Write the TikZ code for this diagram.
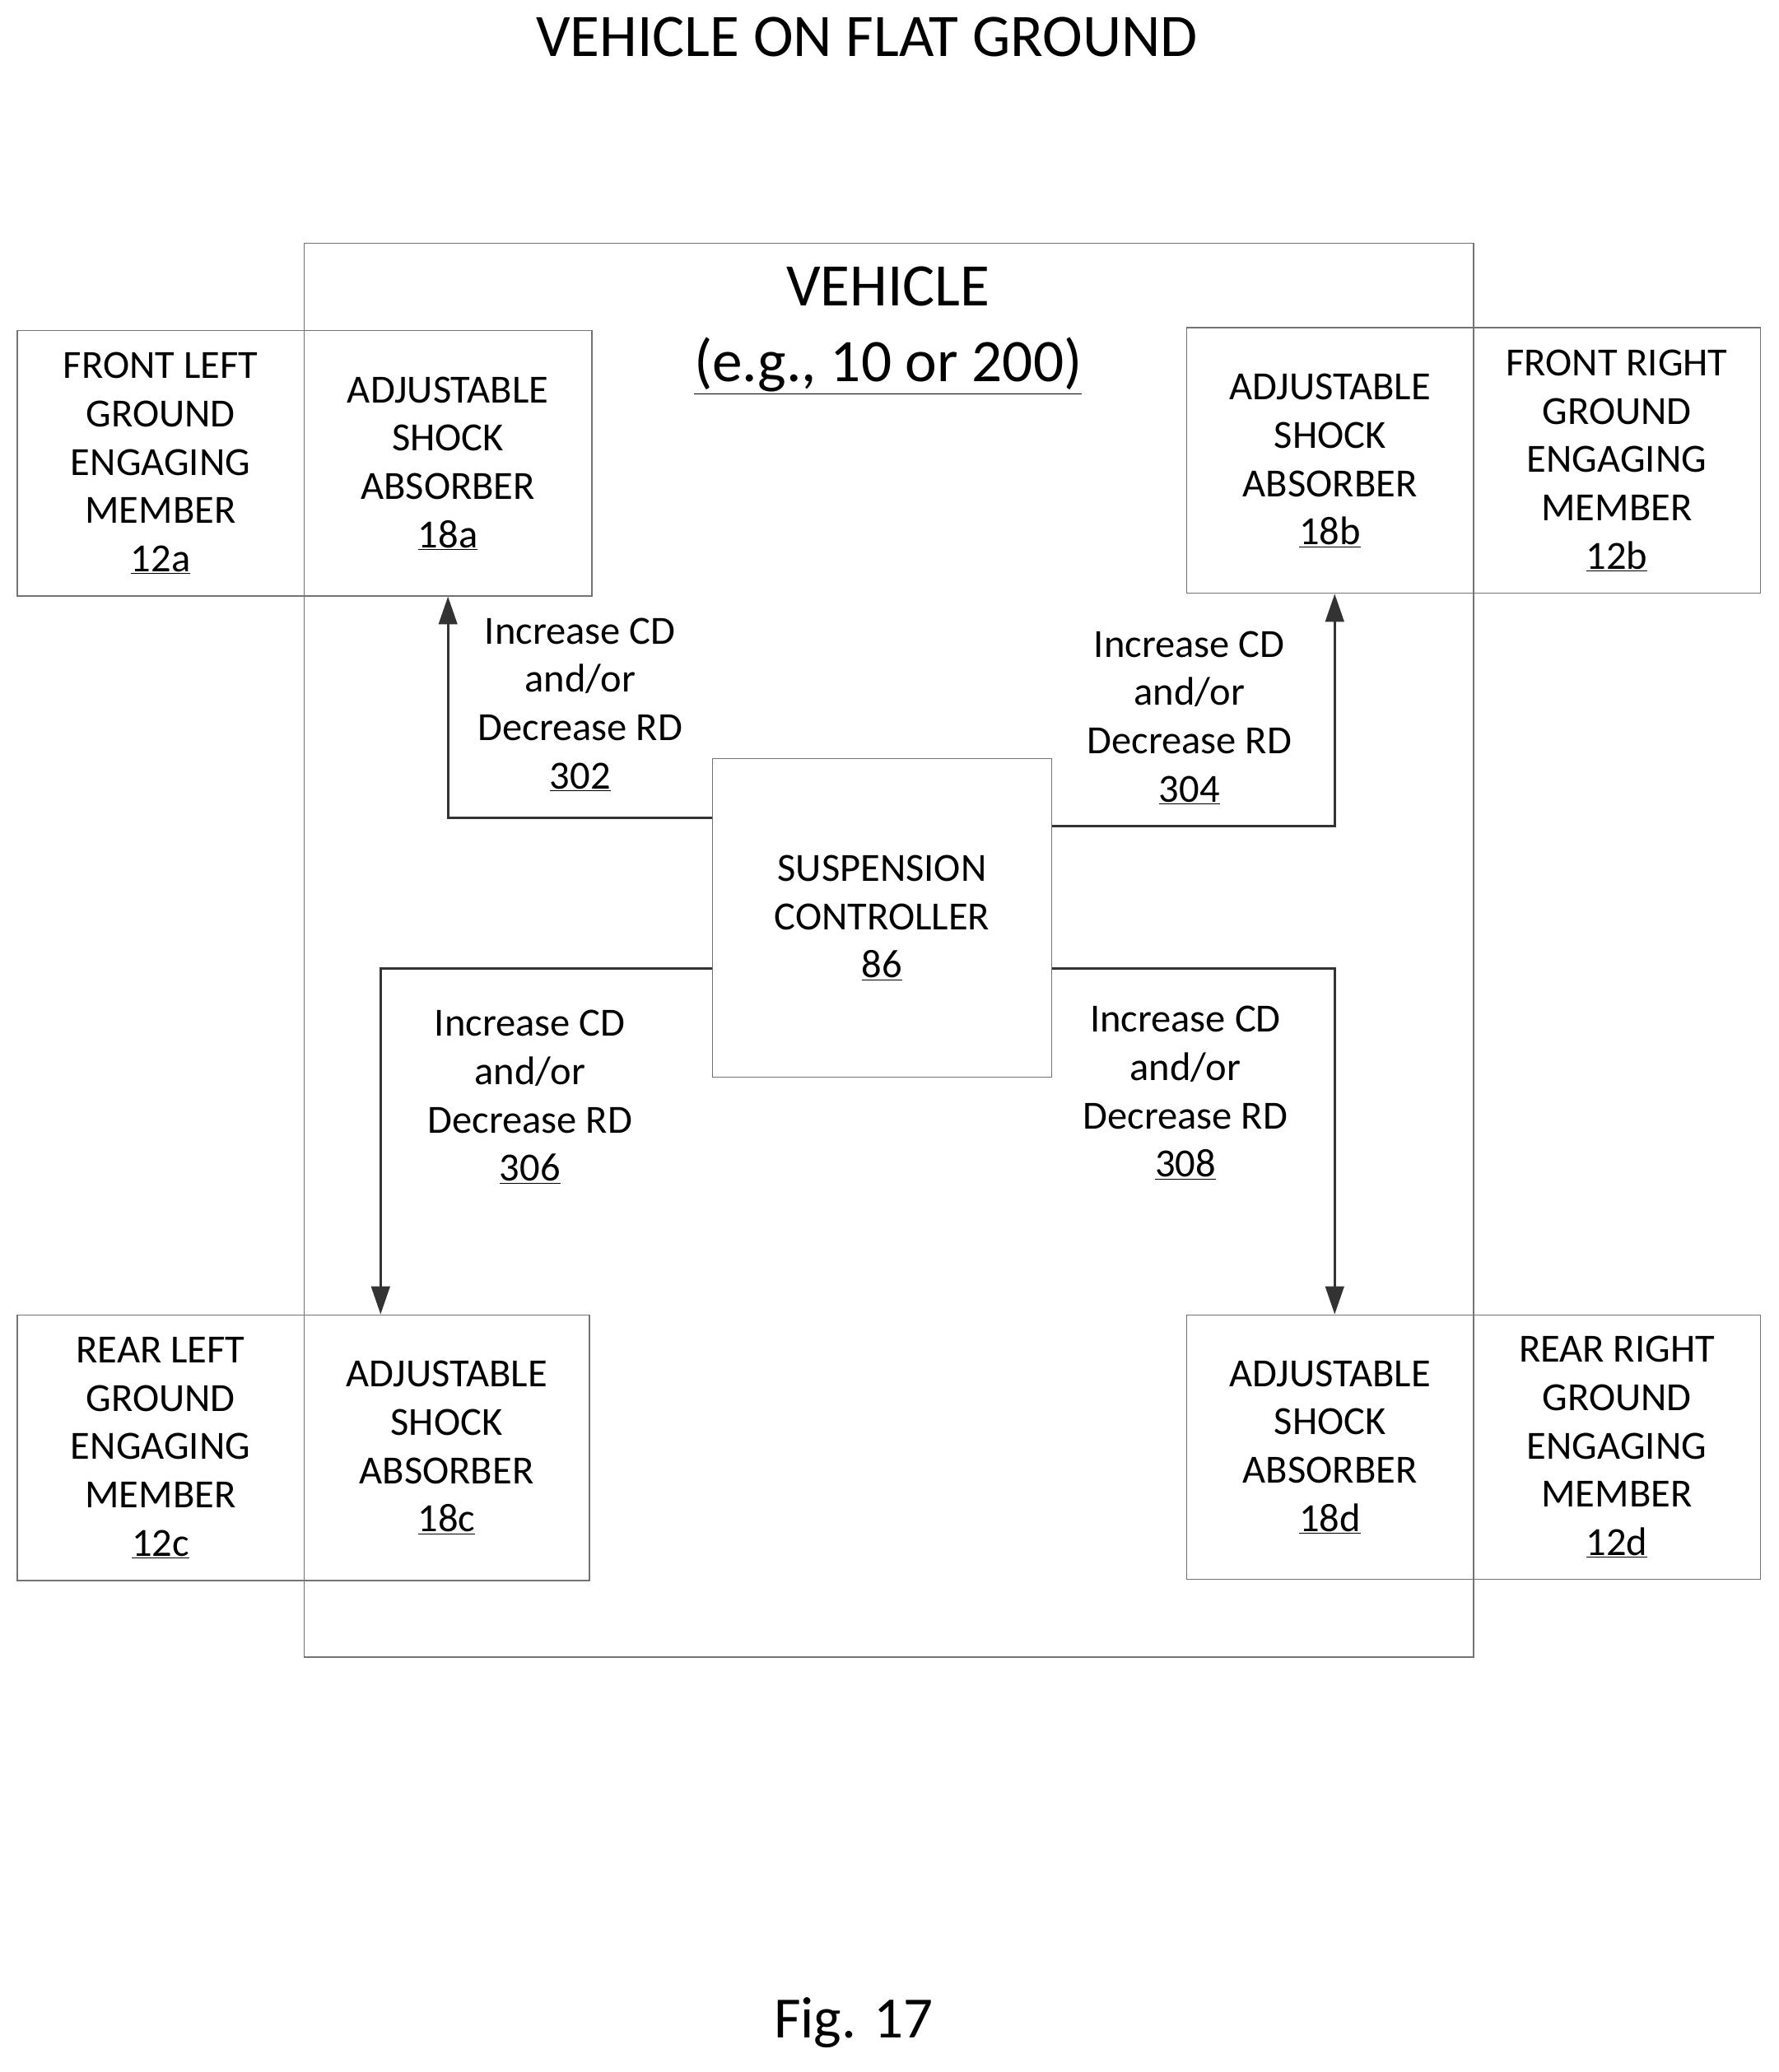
\documentclass[tikz,border=0pt]{standalone}
\usepackage{fontspec}
\setmainfont{Carlito}
\usetikzlibrary{arrows.meta}
\begin{document}
\begin{tikzpicture}[x=0.05cm,y=-0.05cm,
 box/.style={draw=black!55,line width=1.2pt,rectangle,inner sep=0pt,align=center,font=\fontsize{43}{52}\selectfont},
 lbl/.style={align=center,font=\fontsize{43}{52}\selectfont},
 arr/.style={draw=black!80,line width=2.4pt,-{Triangle[length=30pt,width=20pt]}}]
\useasboundingbox (0,0) rectangle (1346,1568);
\node[lbl,font=\fontsize{65}{76}\selectfont] (title) at (656,28) {VEHICLE ON FLAT GROUND};
\node[box,minimum width=885*0.05cm,minimum height=1070*0.05cm] (veh) at (672.5,719) {};
\node[lbl,font=\fontsize{65}{82}\selectfont,anchor=north] (vt) at (672,199) {VEHICLE\\\underline{(e.g., 10 or 200)}};
\node[box,minimum width=217*0.05cm,minimum height=201*0.05cm] (g12a) at (121.5,350.5) {FRONT LEFT\\GROUND\\ENGAGING\\MEMBER\\\underline{12a}};
\node[box,minimum width=218*0.05cm,minimum height=201*0.05cm] (s18a) at (339,350.5) {ADJUSTABLE\\SHOCK\\ABSORBER\\\underline{18a}};
\node[box,minimum width=217*0.05cm,minimum height=201*0.05cm] (s18b) at (1006.5,348.5) {ADJUSTABLE\\SHOCK\\ABSORBER\\\underline{18b}};
\node[box,minimum width=217*0.05cm,minimum height=201*0.05cm] (g12b) at (1223.5,348.5) {FRONT RIGHT\\GROUND\\ENGAGING\\MEMBER\\\underline{12b}};
\node[box,minimum width=217*0.05cm,minimum height=201*0.05cm] (g12c) at (121.5,1095.5) {REAR LEFT\\GROUND\\ENGAGING\\MEMBER\\\underline{12c}};
\node[box,minimum width=216*0.05cm,minimum height=201*0.05cm] (s18c) at (338,1095.5) {ADJUSTABLE\\SHOCK\\ABSORBER\\\underline{18c}};
\node[box,minimum width=217*0.05cm,minimum height=200*0.05cm] (s18d) at (1006.5,1095) {ADJUSTABLE\\SHOCK\\ABSORBER\\\underline{18d}};
\node[box,minimum width=217*0.05cm,minimum height=200*0.05cm] (g12d) at (1223.5,1095) {REAR RIGHT\\GROUND\\ENGAGING\\MEMBER\\\underline{12d}};
\node[box,minimum width=257*0.05cm,minimum height=241*0.05cm] (ctl) at (667.5,694.5) {SUSPENSION\\CONTROLLER\\\underline{86}};
\coordinate (c302) at (339,619);
\coordinate (c304) at (1010,625);
\coordinate (c306) at (288,733);
\coordinate (c308) at (1010,733);
\draw[arr] (ctl.west |- c302) -- (c302) -- (c302 |- s18a.south);
\draw[arr] (ctl.east |- c304) -- (c304) -- (c304 |- s18b.south);
\draw[arr] (ctl.west |- c306) -- (c306) -- (c306 |- s18c.north);
\draw[arr] (ctl.east |- c308) -- (c308) -- (c308 |- s18d.north);
\node[lbl] (l302) at (439,533) {Increase CD\\and/or\\Decrease RD\\\underline{302}};
\node[lbl] (l304) at (900,543) {Increase CD\\and/or\\Decrease RD\\\underline{304}};
\node[lbl] (l306) at (401,830) {Increase CD\\and/or\\Decrease RD\\\underline{306}};
\node[lbl] (l308) at (897,827) {Increase CD\\and/or\\Decrease RD\\\underline{308}};
\node[lbl,font=\fontsize{63}{74}\selectfont] (fig) at (646,1531) {Fig. 17};
\end{tikzpicture}
\end{document}
